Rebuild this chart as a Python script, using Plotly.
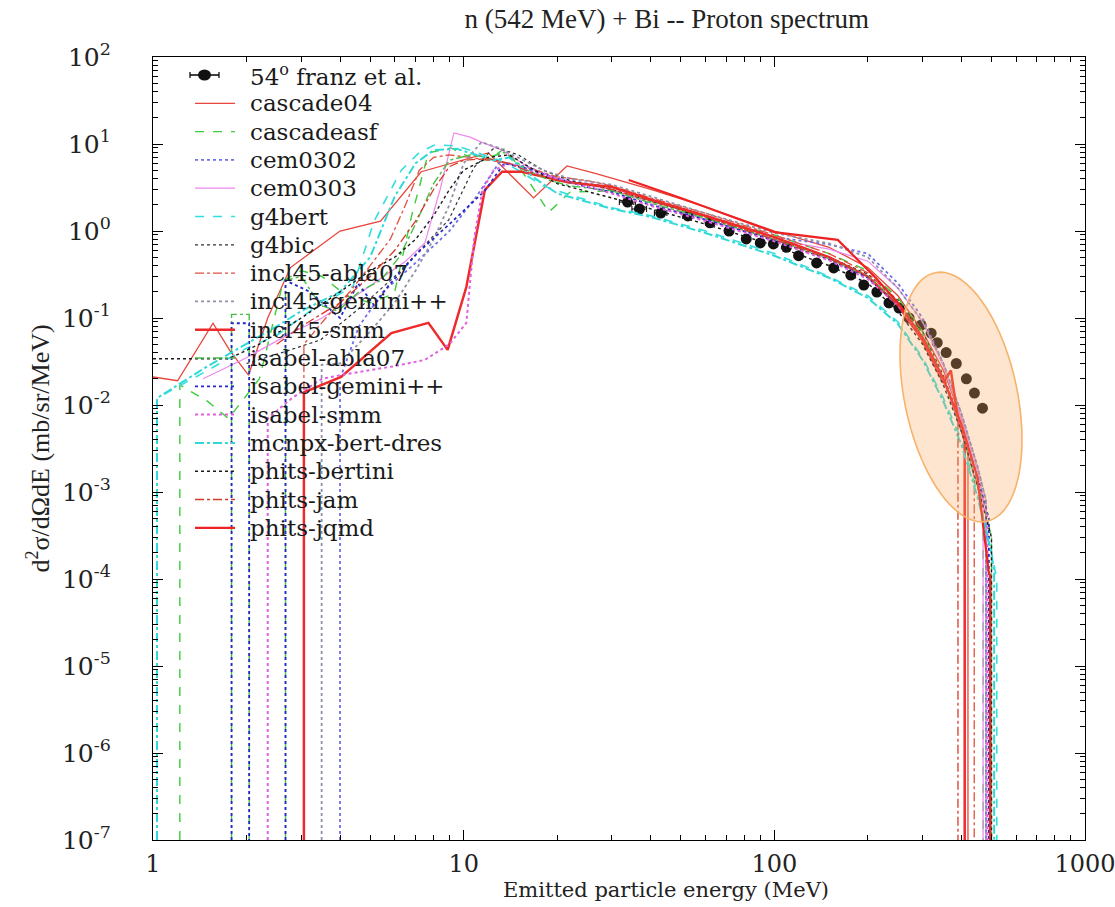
import math
import plotly.graph_objects as go

# ---- measured spectrum: 54 deg, Franz et al. ----
franz_E = [33.7, 36.8, 43.1, 52.7, 62.1, 71.5, 81.2, 90.1, 99.3, 109.4, 119.7, 136.8,
           155.3, 176.2, 194.1, 213.8, 233.9, 251.9, 271.5, 296.8, 319.7, 334.4, 357.4,
           385.2, 415.1, 440.6, 467.8]
franz_val = [2.15, 1.79, 1.61, 1.49, 1.24, 1.0, 0.81, 0.73, 0.71, 0.65, 0.52, 0.43,
             0.376, 0.312, 0.239, 0.199, 0.149, 0.130, 0.100, 0.083, 0.067, 0.052, 0.040,
             0.030, 0.020, 0.0137, 0.0092]
franz_dE = 2.0

# ---- model calculations (None = gap in the histogram) ----
cascade04_E = [1.0, 1.2, 1.56, 1.77, 2.03, 2.34, 2.77, 4.0, 5.4, 7.3, 12.0, 16.8, 21.5, 26.5, 40, 60, 100, 150, 200, 250, 300, 350, 400, 420, 420]
cascade04_v = [0.021, 0.019, 0.087, 0.042, 0.022, 0.10, 0.38, 1.0, 1.3, 4.8, 7.9, 2.4, 5.6, 4.6, 3.0, 1.9, 1.0, 0.65, 0.38, 0.18, 0.07, 0.025, 0.007, 0.004, 1e-7]

cascadeasf_E = [1.22, 1.22, 1.5, 1.75, 2.2, 2.63, 3.0, 3.5, 4.2, 5.0, 5.98, 6.8, 7.7, 9.1, 10.5, 12, 13.6, 16, 18.8, 22, 30, 40, 60, 100, 150, 200, 250, 300, 350, 400, 450, 470, 470]
cascadeasf_v = [1e-7, 0.017, 0.011, 0.007, 0.02, 0.27, 0.35, 0.3, 0.18, 0.15, 0.19, 1.5, 7.9, 9.0, 7.0, 6.5, 9.0, 4.0, 1.65, 2.8, 2.9, 2.2, 1.5, 0.9, 0.55, 0.35, 0.17, 0.07, 0.02, 0.005, 0.0012, 6e-4, 1e-7]

cem0302_E = [4.0, 4.0, 4.6, 5.5, 7.0, 9.0, 11, 13, 16, 20, 25, 30, 40, 60, 100, 150, 200, 250, 300, 350, 400, 450, 480, 480]
cem0302_v = [1e-7, 0.02, 0.08, 0.2, 0.43, 1.0, 2.5, 6.1, 5.5, 4.0, 3.5, 3.2, 2.3, 1.5, 0.85, 0.7, 0.55, 0.25, 0.1, 0.03, 0.008, 0.002, 8e-4, 1e-7]

cem0303_E = [1.45, 2.0, 2.78, 3.5, 4.5, 5.5, 6.5, 7.5, 8.4, 9.3, 10.5, 11.4, 13.3, 16, 20, 25, 30, 40, 60, 100, 150, 200, 250, 300, 350, 400, 450, 470, 470]
cem0303_v = [0.02, 0.035, 0.067, 0.1, 0.18, 0.3, 0.45, 0.73, 3.0, 13.4, 12, 10.5, 8.5, 5.5, 4.0, 3.4, 3.0, 2.1, 1.35, 0.8, 0.62, 0.45, 0.22, 0.09, 0.028, 0.007, 0.0018, 9e-4, 1e-7]

g4bert_E = [1.03, 1.03, 1.5, 2.0, 2.5, 3.2, 4.4, 5.15, 6.3, 7.2, 8.1, 9.5, 11, 13, 15, 18, 22, 30, 40, 60, 100, 150, 200, 250, 300, 350, 400, 450, 500, 520, 520]
g4bert_v = [1e-7, 0.012, 0.025, 0.045, 0.063, 0.12, 0.23, 1.3, 5.0, 8.0, 9.8, 9.5, 8.0, 6.5, 5.0, 3.3, 2.6, 1.85, 1.5, 1.0, 0.55, 0.3, 0.18, 0.09, 0.035, 0.012, 0.004, 0.001, 2e-4, 1e-4, 1e-7]

g4bic_E = [2.0, 2.6, 3.46, 4.5, 6.0, 7.5, 8.95, 10.8, 12.6, 15, 18, 22, 30, 40, 60, 100, 150, 200, 250, 300, 350, 400, 450, 490, 490]
g4bic_v = [0.03, 0.04, 0.056, 0.12, 0.3, 0.7, 1.34, 5.4, 9.2, 7.5, 5.0, 3.8, 3.0, 2.2, 1.45, 0.8, 0.5, 0.32, 0.16, 0.07, 0.022, 0.006, 0.0015, 5e-4, 1e-7]

incl45_abla07_E = [3.06, 3.06, 3.6, 4.3, 5.0, 5.8, 6.5, 7.2, 8.0, 9.0, 10.5, 12, 14, 17, 20, 25, 30, 40, 60, 100, 150, 200, 250, 300, 350, 400, 430, 440, 440]
incl45_abla07_v = [1e-7, 0.05, 0.1, 0.2, 0.4, 0.8, 2.0, 5.0, 7.0, 7.5, 7.0, 6.5, 6.0, 5.0, 4.2, 3.8, 3.3, 2.4, 1.6, 0.9, 0.55, 0.33, 0.15, 0.06, 0.02, 0.005, 0.002, 0.0015, 1e-7]

incl45_gemini_E = [3.49, 3.49, 4.0, 5.0, 6.0, 7.0, 8.0, 9.0, 10, 11.4, 13, 15, 18, 22, 30, 40, 60, 100, 150, 200, 250, 300, 350, 400, 450, 480, 480]
incl45_gemini_v = [1e-7, 0.029, 0.03, 0.07, 0.15, 0.35, 0.8, 2.0, 6.0, 10.5, 9.0, 7.0, 5.0, 4.0, 3.4, 2.5, 1.6, 0.95, 0.72, 0.5, 0.22, 0.09, 0.03, 0.008, 0.002, 8e-4, 1e-7]

incl45_smm_E = [3.06, 3.06, 4.03, 5.85, 7.7, 8.88, 10.2, 11.7, 13.3, 15.4, 21.8, 30, 40, 60, 100, 150, 200, 250, 300, 350, 370, 390, 410, 410]
incl45_smm_v = [1e-7, 0.014, 0.021, 0.067, 0.088, 0.043, 0.227, 2.96, 4.8, 4.8, 3.6, 3.2, 2.3, 1.5, 0.85, 0.5, 0.3, 0.14, 0.055, 0.018, 0.025, 0.007, 0.004, 1e-7]

isabel_abla07_E = [1.79, 1.79, 2.04, 2.04, None, 2.67, 2.67, 3.0, 3.46, 3.94, 4.6, 5.4, 6.2, 7.0, 8.0, 9.0, 10.5, 12, 13.5, 16, 19, 22, 30, 40, 60, 100, 150, 200, 250, 300, 350, 400, 450, 500, 500]
isabel_abla07_v = [1e-7, 0.11, 0.11, 1e-7, None, 1e-7, 0.27, 0.3, 0.14, 0.12, 0.2, 0.27, 0.5, 1.2, 3.5, 6.5, 7.5, 7.0, 8.0, 5.0, 3.8, 3.3, 2.9, 2.1, 1.4, 0.8, 0.48, 0.3, 0.15, 0.065, 0.02, 0.006, 0.0015, 3e-4, 1e-7]

isabel_gemini_E = [1.79, 1.79, 2.04, 2.04, None, 2.67, 2.67, 3.2, 4.0, 4.57, 5.15, 5.7, 7.1, 9.0, 11.7, 13.5, 16, 20, 25, 30, 40, 60, 100, 150, 200, 250, 300, 350, 400, 450, 490, 490]
isabel_gemini_v = [1e-7, 0.087, 0.087, 1e-7, None, 1e-7, 0.27, 0.2, 0.1, 0.25, 0.14, 0.23, 0.56, 1.2, 2.9, 6.0, 5.2, 4.0, 3.2, 2.8, 2.0, 1.35, 0.78, 0.47, 0.29, 0.14, 0.06, 0.02, 0.006, 0.0015, 5e-4, 1e-7]

isabel_smm_E = [2.34, 2.34, 2.8, 3.5, 4.0, 5.0, 6.0, 7.5, 9.0, 10.2, 10.8, 11.5, 12.5, 14, 16, 20, 25, 30, 40, 60, 100, 150, 200, 250, 300, 350, 400, 450, 485, 485]
isabel_smm_v = [1e-7, 0.007, 0.012, 0.02, 0.022, 0.025, 0.028, 0.033, 0.05, 0.088, 0.8, 3.0, 5.0, 6.0, 5.0, 4.0, 3.2, 2.7, 1.95, 1.3, 0.76, 0.46, 0.28, 0.14, 0.06, 0.019, 0.0055, 0.0014, 5e-4, 1e-7]

mcnpx_E = [1.03, 1.03, 1.5, 2.0, 2.5, 3.0, 4.0, 5.0, 6.0, 7.0, 8.0, 9.5, 11, 12.5, 14, 17, 20, 30, 40, 60, 100, 150, 200, 250, 300, 350, 400, 450, 500, 510, 510]
mcnpx_v = [1e-7, 0.012, 0.028, 0.05, 0.08, 0.12, 0.2, 0.5, 2.5, 6.0, 8.5, 8.8, 7.5, 6.5, 7.0, 4.0, 2.7, 1.8, 1.45, 0.95, 0.52, 0.29, 0.17, 0.085, 0.033, 0.011, 0.0035, 9e-4, 2e-4, 1.2e-4, 1e-7]

phits_bertini_E = [1.0, 1.75, 2.2, 3.0, 4.0, 5.0, 6.0, 7.0, 8.0, 9.0, 10, 12, 14, 17, 20, 30, 40, 60, 100, 150, 200, 250, 300, 350, 400, 450, 500, 500]
phits_bertini_v = [0.034, 0.034, 0.05, 0.1, 0.2, 0.35, 0.5, 0.8, 1.5, 3.0, 5.0, 7.0, 7.5, 5.0, 3.5, 2.4, 1.8, 1.2, 0.68, 0.4, 0.25, 0.12, 0.05, 0.017, 0.005, 0.0012, 3e-4, 1e-7]

phits_jam_E = [2.5, 3.0, 4.0, 5.0, 6.0, 7.0, 8.0, 9.0, 10, 12, 14, 17, 20, 25, 30, 40, 60, 100, 150, 200, 250, 300, 350, 380, 390, 390]
phits_jam_v = [0.05, 0.08, 0.15, 0.3, 0.6, 1.3, 3.0, 5.5, 6.5, 6.8, 6.0, 4.5, 3.8, 3.4, 3.0, 2.2, 1.45, 0.8, 0.48, 0.3, 0.14, 0.06, 0.02, 0.01, 0.008, 1e-7]

phits_jqmd_E = [34, 50, 100, 160, 210, 250, 300, 350, 400, 450, 490, 495, 495]
phits_jqmd_v = [3.86, 2.4, 0.97, 0.79, 0.3, 0.15, 0.06, 0.02, 0.006, 0.0015, 1.2e-4, 1.1e-4, 1e-7]

models = [
    ("cascade04", cascade04_E, cascade04_v, "#e8463c", "solid", 1.3),
    ("cascadeasf", cascadeasf_E, cascadeasf_v, "#3ccc3c", "dash", 1.4),
    ("cem0302", cem0302_E, cem0302_v, "#6f6fe6", "dot", 1.8),
    ("cem0303", cem0303_E, cem0303_v, "#ee88ee", "solid", 1.2),
    ("g4bert", g4bert_E, g4bert_v, "#33dede", "dash", 1.6),
    ("g4bic", g4bic_E, g4bic_v, "#333333", "3px,3px", 1.2),
    ("incl45-abla07", incl45_abla07_E, incl45_abla07_v, "#e05040", "dashdot", 1.3),
    ("incl45-gemini++", incl45_gemini_E, incl45_gemini_v, "#9090a8", "dot", 1.8),
    ("incl45-smm", incl45_smm_E, incl45_smm_v, "#ee2a2a", "solid", 2.5),
    ("isabel-abla07", isabel_abla07_E, isabel_abla07_v, "#44c044", "dashdot", 1.4),
    ("isabel-gemini++", isabel_gemini_E, isabel_gemini_v, "#2828c8", "dot", 1.8),
    ("isabel-smm", isabel_smm_E, isabel_smm_v, "#e060e0", "dot", 2.0),
    ("mcnpx-bert-dres", mcnpx_E, mcnpx_v, "#30d8d8", "dashdot", 2.0),
    ("phits-bertini", phits_bertini_E, phits_bertini_v, "#1a1a1a", "dot", 1.4),
    ("phits-jam", phits_jam_E, phits_jam_v, "#d83a2a", "dashdot", 1.3),
    ("phits-jqmd", phits_jqmd_E, phits_jqmd_v, "#ee2222", "solid", 2.2),
]
data_label = "54<sup>o</sup> franz et al."

y_tickvals = [1e-7, 1e-6, 1e-5, 1e-4, 1e-3, 1e-2, 1e-1, 1, 10, 100]
y_ticktext = ["10<sup>-7</sup>", "10<sup>-6</sup>", "10<sup>-5</sup>", "10<sup>-4</sup>",
              "10<sup>-3</sup>", "10<sup>-2</sup>", "10<sup>-1</sup>", "10<sup>0</sup>",
              "10<sup>1</sup>", "10<sup>2</sup>"]
x_tickvals = [1, 10, 100, 1000]
x_ticktext = ["1", "10", "100", "1000"]

WIDE_SERIF = "DejaVu Serif"
TIMES = "Liberation Serif"

fig = go.Figure()

fig.add_trace(go.Scatter(
    x=franz_E, y=franz_val, mode="markers", name=data_label,
    marker=dict(color="#111", size=11, symbol="circle"),
    error_x=dict(type="constant", value=franz_dE, color="black", thickness=1, width=3),
))

for name, xs, ys, color, dash, width in models:
    fig.add_trace(go.Scatter(
        x=xs, y=ys, mode="lines", name=name, connectgaps=False,
        line=dict(color=color, dash=dash, width=width),
    ))

# plot-area pixel box, used to place paper-referenced decorations
L, R, T, B = 153, 1085, 57, 840


def px2paper(px, py):
    return (px - L) / (R - L), (B - py) / (B - T)


# key drawn inside the frame: sample glyph + label per entry
key_top, key_step = 75, 28.3
key_x0, key_x1, key_text = 195, 235, 248
for i, label in enumerate([data_label] + [m[0] for m in models]):
    yc = key_top + key_step * i
    xa, ya = px2paper(key_x0, yc)
    xb, _ = px2paper(key_x1, yc)
    if i == 0:
        # dot with horizontal error bar
        e0, _ = px2paper(190, yc)
        e1, _ = px2paper(219, yc)
        fig.add_shape(type="line", xref="paper", yref="paper", x0=e0, x1=e1, y0=ya, y1=ya,
                      line=dict(color="black", width=1.5))
        for ex in (e0, e1):
            c0 = px2paper(0, yc - 3)[1]
            c1 = px2paper(0, yc + 3)[1]
            fig.add_shape(type="line", xref="paper", yref="paper", x0=ex, x1=ex, y0=c0, y1=c1,
                          line=dict(color="black", width=1.2))
        d0x, d0y = px2paper(198, yc + 5.5)
        d1x, d1y = px2paper(211, yc - 5.5)
        fig.add_shape(type="circle", xref="paper", yref="paper", x0=d0x, x1=d1x, y0=d0y, y1=d1y,
                      fillcolor="#111", line=dict(color="#111", width=0))
    else:
        _, _, _, color, dash, width = models[i - 1]
        fig.add_shape(type="line", xref="paper", yref="paper", x0=xa, x1=xb, y0=ya, y1=ya,
                      line=dict(color=color, dash=dash, width=width))
    tx, _ = px2paper(key_text, yc)
    fig.add_annotation(text=label, xref="paper", yref="paper", x=tx, y=ya,
                       xanchor="left", yanchor="middle", showarrow=False,
                       font=dict(family=WIDE_SERIF, size=23, color="#1a1a1a"))

# x-axis caption, centred under the 10-100 MeV span
xt, yt = px2paper(666, 890)
fig.add_annotation(text="Emitted particle energy (MeV)", xref="paper", yref="paper", x=xt, y=yt,
                   xanchor="center", yanchor="middle", showarrow=False,
                   font=dict(family=WIDE_SERIF, size=21, color="#222"))

# highlight ellipse around the high-energy tail
cx, cy, a, b = 961, 397, 127, 56.4
theta = math.atan2(52, 249)
pts = []
for k in range(73):
    t = 2 * math.pi * k / 72
    ux, uy = b * math.cos(t), a * math.sin(t)
    px = cx + ux * math.cos(theta) + uy * math.sin(theta)
    py = cy - ux * math.sin(theta) + uy * math.cos(theta)
    pts.append(px2paper(px, py))
path = "M " + " L ".join(f"{x:.5f},{y:.5f}" for x, y in pts) + " Z"
fig.add_shape(type="path", path=path, xref="paper", yref="paper",
              fillcolor="rgba(247,170,95,0.30)", line=dict(color="rgb(247,178,107)", width=1.6),
              layer="above")

axis_common = dict(
    type="log", showline=True, linecolor="black", linewidth=1.3, mirror="allticks",
    ticks="inside", ticklen=10, tickwidth=1, tickcolor="black", showgrid=False,
    zeroline=False, automargin=False,
    minor=dict(ticks="inside", ticklen=5, tickcolor="black", dtick="D1", showgrid=False),
)

fig.update_xaxes(range=[0, 3], tickvals=x_tickvals, ticktext=x_ticktext, ticklabelstandoff=2,
                 ticklabeloverflow="allow", tickfont=dict(family=WIDE_SERIF, size=24, color="#222"),
                 **axis_common)
fig.update_yaxes(range=[-7, 2], tickvals=y_tickvals, ticktext=y_ticktext, ticklabelstandoff=36,
                 tickfont=dict(family=WIDE_SERIF, size=25, color="#222"),
                 title=dict(text="d<sup>2</sup>σ/dΩdE (mb/sr/MeV)", font=dict(family=TIMES, size=26, color="#222"), standoff=4),
                 **axis_common)

fig.update_layout(
    width=1115, height=907,
    margin=dict(l=153, r=30, t=57, b=67),
    paper_bgcolor="white", plot_bgcolor="white",
    title=dict(text="n (542 MeV) + Bi -- Proton spectrum", x=0.598, xanchor="center", y=0.99, yanchor="top",
               font=dict(family=TIMES, size=27, color="#222")),
    showlegend=False,
)

fig.write_html("out.html")
